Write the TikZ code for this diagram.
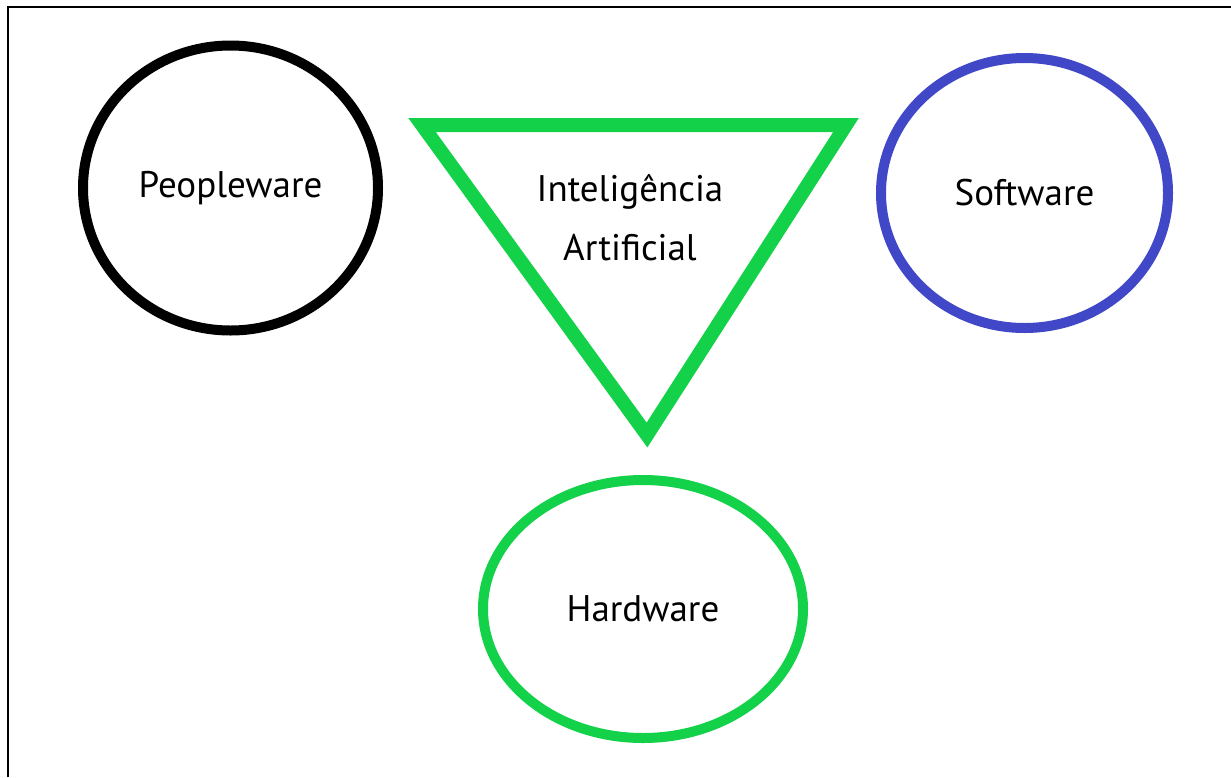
\documentclass[tikz,border=0pt]{standalone}
\usepackage{fontspec}
\setmainfont{PT Sans}
\usetikzlibrary{shapes.geometric}
\definecolor{aigreen}{RGB}{20,209,74}
\definecolor{swblue}{RGB}{64,72,200}

\begin{document}
\begin{tikzpicture}[x=1pt,y=-1pt,
      ring/.style={ellipse,draw,line width=10pt,inner sep=0pt,font=\fontsize{37}{44}\selectfont},
      label/.style={align=center,font=\fontsize{37}{59}\selectfont}
    ]
      \useasboundingbox (0,0) rectangle (1231,777);
      \draw[line width=1.5pt] (8,777) -- (8,7) -- (1231,7);
      \node[ring,draw=black,minimum width=295pt,minimum height=285pt] (people) at (230.5,188) {Peopleware};
      \node[ring,draw=swblue,minimum width=287pt,minimum height=270pt] (soft) at (1024.5,193) {Software};
      \node[ring,draw=aigreen,minimum width=320pt,minimum height=258pt] (hard) at (643,609) {Hardware};
      \draw[aigreen,line width=14pt,miter limit=20] (422,125) -- (846,125) -- (647,435) -- cycle;
      \node[label] (ai) at (630,218) {Inteligência\\Artificial};
    \end{tikzpicture}
\end{document}
